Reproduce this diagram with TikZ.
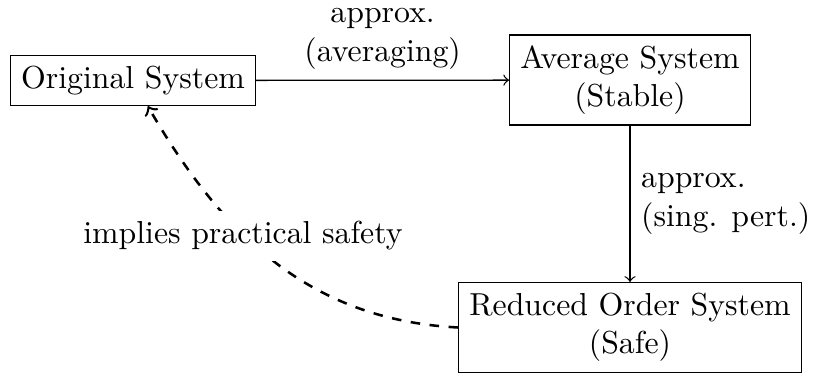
\documentclass[tikz,border=0pt]{standalone}
\begin{document}
\begin{tikzpicture}[x=0.3145pt, y=-0.3145pt,
  sysbox/.style={draw, align=center},
  edgelabel/.style={align=center},
  flow/.style={->},
  implied/.style={->, dashed, thick}]
\useasboundingbox (0,0) rectangle (814,379);
\node[sysbox] (orig) at (133,80.5) {Original System};
\node[sysbox] (avg) at (630,80) {Average System\\(Stable)};
\node[sysbox] (red) at (630,327.5) {Reduced Order System\\(Safe)};
\draw[flow] (orig) -- node[above, edgelabel] (lblavg) {approx.\\(averaging)} (avg);
\draw[flow] (avg) -- node[right, align=left] (lblsp) {approx.\\(sing. pert.)} (red);
\draw[implied] (red.west) to[out=177, in=-60] (orig);
\node[fill=white] (lblsafe) at (243,236) {implies practical safety};
\end{tikzpicture}
\end{document}
